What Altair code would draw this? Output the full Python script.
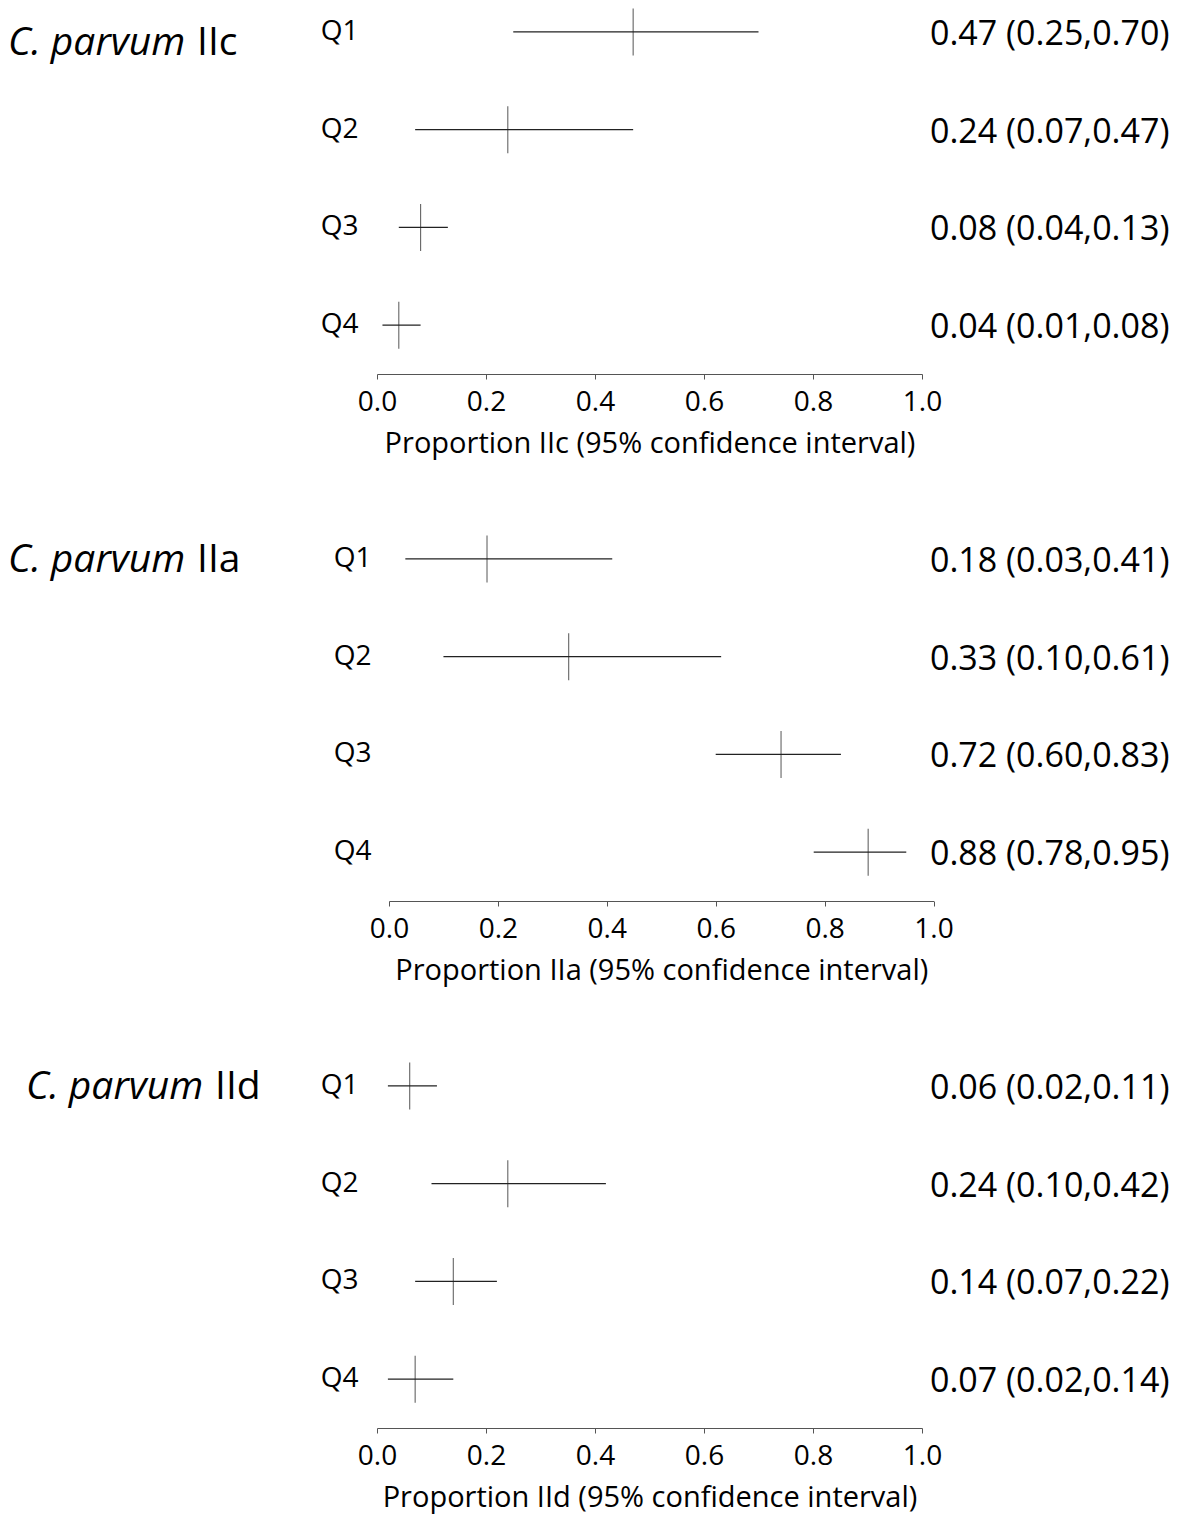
import altair as alt
import pandas as pd

quarters = ["Q1", "Q2", "Q3", "Q4"]
subtypes = ["IIc", "IIa", "IId"]
species = "C. parvum"

iic_est = [0.47, 0.24, 0.08, 0.04]
iic_low = [0.25, 0.07, 0.04, 0.01]
iic_high = [0.70, 0.47, 0.13, 0.08]

iia_est = [0.18, 0.33, 0.72, 0.88]
iia_low = [0.03, 0.10, 0.60, 0.78]
iia_high = [0.41, 0.61, 0.83, 0.95]

iid_est = [0.06, 0.24, 0.14, 0.07]
iid_low = [0.02, 0.10, 0.07, 0.02]
iid_high = [0.11, 0.42, 0.22, 0.14]

x_ticks = [0.0, 0.2, 0.4, 0.6, 0.8, 1.0]

FONT = "Open Sans"
W = 557
H = 391
LINE = "#222222"


def panel(sub, est, low, high, x_range, q_pad, title_x, sub_dx, title_dy):
    df = pd.DataFrame({"q": quarters, "est": est, "low": low, "high": high})
    df["label"] = [f"{e:.2f} ({l:.2f},{h:.2f})" for e, l, h in zip(est, low, high)]

    yenc = alt.Y(
        "q:N",
        sort=quarters,
        scale=alt.Scale(domain=quarters, paddingInner=0, paddingOuter=0),
        axis=alt.Axis(
            title=None, domain=False, ticks=False, labelPadding=q_pad,
            labelFontSize=28, labelFont=FONT, labelColor="black",
        ),
    )
    xscale = alt.Scale(domain=[0, 1], range=x_range, nice=False, zero=False)
    xaxis = alt.Axis(
        title=f"Proportion {sub} (95% confidence interval)",
        values=x_ticks, format=".1f", grid=False,
        labelFlush=False, labelOverlap=False,
        domainColor="#555555", tickColor="#555555", tickSize=5,
        labelPadding=9, labelFontSize=28, labelFont=FONT, labelColor="black",
        titleFontSize=29, titleFont=FONT, titleFontWeight="normal",
        titleColor="black", titlePadding=13,
    )
    base = alt.Chart(df)
    ci = base.mark_rule(color=LINE, strokeWidth=1.1).encode(
        x=alt.X("low:Q", scale=xscale, axis=xaxis), x2="high:Q", y=yenc
    )
    pt = base.mark_tick(color=LINE, size=47, thickness=1.1).encode(
        x=alt.X("est:Q"), y=alt.Y("q:N", sort=quarters)
    )
    lab = base.mark_text(
        align="left", baseline="middle", fontSize=34, font=FONT, color="black", dy=3
    ).encode(x=alt.value(553), y=alt.Y("q:N", sort=quarters), text="label:N")

    tdf = pd.DataFrame({"q": ["Q1"], "sp": [species], "sub": [sub]})
    t1 = alt.Chart(tdf).mark_text(
        align="left", baseline="middle", fontSize=39, font=FONT,
        fontStyle="italic", color="black", dy=title_dy,
    ).encode(x=alt.value(title_x), y=alt.Y("q:N", sort=quarters), text="sp:N")
    t2 = alt.Chart(tdf).mark_text(
        align="left", baseline="middle", fontSize=39, font=FONT,
        color="black", dy=title_dy,
    ).encode(x=alt.value(title_x + sub_dx), y=alt.Y("q:N", sort=quarters), text="sub:N")

    return alt.layer(ci, pt, lab, t1, t2).properties(width=W, height=H)


p1 = panel(subtypes[0], iic_est, iic_low, iic_high, [0, 545], 19, -369, 189, 11)
p2 = panel(subtypes[1], iia_est, iia_low, iia_high, [12, 556.5], 6, -369, 189, 1)
p3 = panel(subtypes[2], iid_est, iid_low, iid_high, [0, 545], 19, -351, 189, 1)

chart = (
    alt.vconcat(p1, p2, p3, spacing=136, bounds="flush")
    .properties(padding={"left": 0, "top": -25, "right": 0, "bottom": 4})
    .configure_view(stroke=None)
)

chart.save("out.html", embed_options={"renderer": "svg", "actions": False})
